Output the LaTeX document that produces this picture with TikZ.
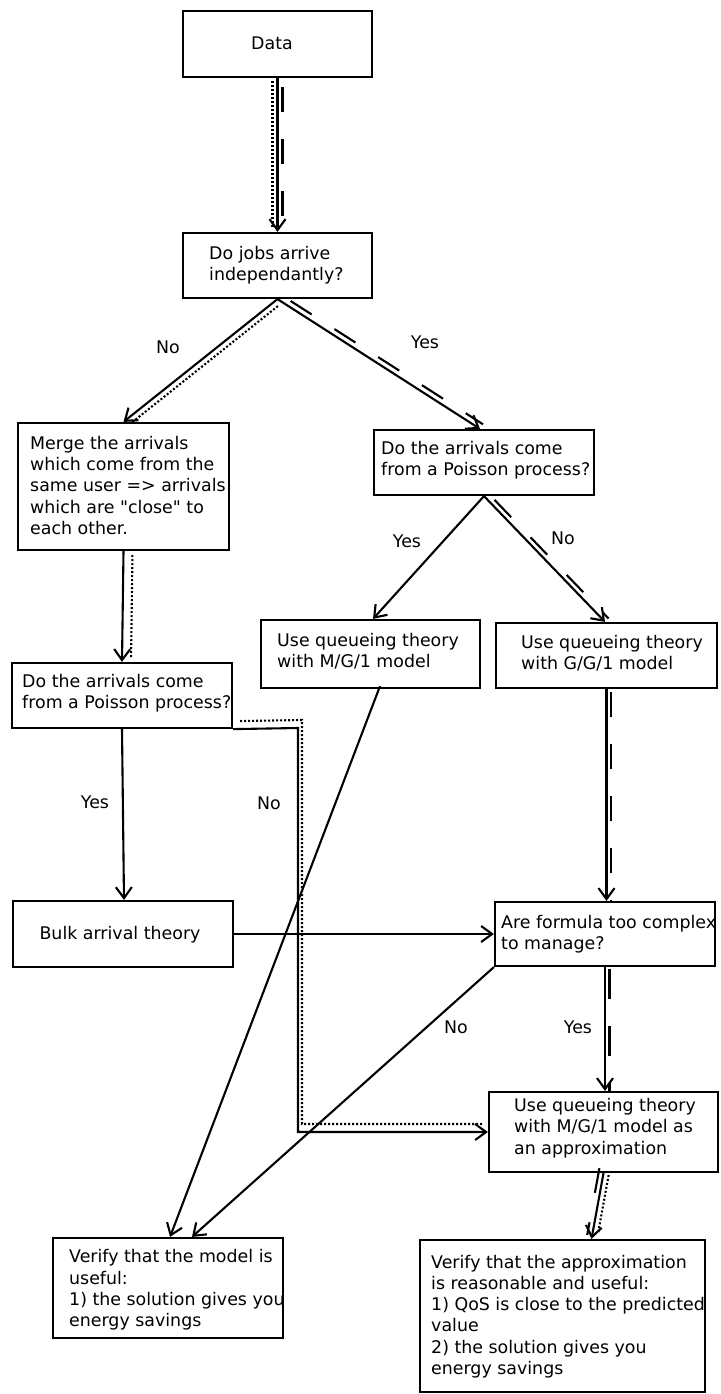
\documentclass[tikz,border=0pt]{standalone}
\usepackage{fontspec}
\setmainfont{DejaVu Sans}[Ligatures=TeXOff]
\usetikzlibrary{arrows.meta,calc}
\begin{document}
\begin{tikzpicture}[x=1pt,y=-1pt,
  box/.style={draw, line width=2.2pt, inner sep=0pt},
  txt/.style={inner sep=0pt, align=left, anchor=west, font=\fontsize{17.4}{21.3}\selectfont},
  lbl/.style={inner sep=0pt, font=\fontsize{17.4}{21.3}\selectfont},
  arr/.style={line width=2.1pt, -{Straight Barb[length=11pt,width=16pt]}},
  dotl/.style={line width=2.1pt, dash pattern=on 2pt off 2pt},
  dashl/.style={line width=2.1pt, dash pattern=on 25pt off 27pt},
]
\useasboundingbox (0,0) rectangle (720,1394);

% boxes
\node[box, minimum width=189pt, minimum height=66pt] (data) at (277.5,44) {};
\node[box, minimum width=189pt, minimum height=65pt] (jobs) at (277.5,265.5) {};
\node[box, minimum width=211pt, minimum height=127pt] (merge) at (123.5,486.5) {};
\node[box, minimum width=220pt, minimum height=65pt] (pois1) at (484,462.5) {};
\node[box, minimum width=219pt, minimum height=68pt] (mg1) at (370.5,654) {};
\node[box, minimum width=221pt, minimum height=65pt] (gg1) at (606.5,655.5) {};
\node[box, minimum width=220pt, minimum height=65pt] (pois2) at (122,695.5) {};
\node[box, minimum width=220pt, minimum height=66pt] (bulk) at (123,934) {};
\node[box, minimum width=220pt, minimum height=64pt] (form) at (605,934) {};
\node[box, minimum width=229pt, minimum height=80pt] (approx) at (603.5,1132) {};
\node[box, minimum width=230pt, minimum height=100pt] (ver1) at (168,1288) {};
\node[box, minimum width=285pt, minimum height=152pt] (ver2) at (562.5,1316) {};

% texts
\node[lbl] (tdata) at (272,43) {Data};
\node[txt] (tjobs) at (209,265.5) {Do jobs arrive\\independantly?};
\node[txt] (tmerge) at (30,485.5) {Merge the arrivals\\which come from the\\same user => arrivals\\which are "close" to\\each other.};
\node[txt] (tpois1) at (381,460.5) {Do the arrivals come\\from a Poisson process?};
\node[txt] (tmg1) at (277,651) {Use queueing theory\\with M/G/1 model};
\node[txt] (tgg1) at (521,653) {Use queueing theory\\with G/G/1 model};
\node[txt] (tpois2) at (22,693) {Do the arrivals come\\from a Poisson process?};
\node[lbl] (tbulk) at (120,935) {Bulk arrival theory};
\node[txt] (tform) at (501,934.5) {Are formula too complex\\to manage?};
\node[txt] (tapprox) at (514,1128) {Use queueing theory\\with M/G/1 model as\\an approximation};
\node[txt] (tver1) at (69,1290) {Verify that the model is\\useful:\\1) the solution gives you\\energy savings};
\node[txt] (tver2) at (431,1316.5) {Verify that the approximation\\is reasonable and useful:\\1) QoS is close to the predicted\\value\\2) the solution gives you\\energy savings};

% labels
\node[lbl] (l1) at (168,347) {No};
\node[lbl] (l2) at (425,342) {Yes};
\node[lbl] (l3) at (407,541) {Yes};
\node[lbl] (l4) at (563,538) {No};
\node[lbl] (l5) at (95,802) {Yes};
\node[lbl] (l6) at (269,803) {No};
\node[lbl] (l7) at (456,1027) {No};
\node[lbl] (l8) at (578,1027) {Yes};

% connectors
\coordinate (c1) at (298,728);
\draw[arr] (data.south) -- (jobs.north);
\draw[dotl, transform canvas={xshift=-5pt}, shorten <=3pt, shorten >=3pt] (data.south) -- (jobs.north);
\draw[dashl, transform canvas={xshift=5pt}, shorten <=9pt] (data.south) -- (jobs.north);

\draw[arr] (jobs.south) -- (merge.north);
\draw[dotl, transform canvas={xshift=3.5pt,yshift=-4.5pt}, shorten <=4pt, shorten >=6pt] (jobs.south) -- (merge.north);

\draw[arr] (jobs.south) -- ($(pois1.north)+(-4,0)$);
\draw[dashl, transform canvas={xshift=3pt,yshift=4.6pt}, shorten <=12pt] (jobs.south) -- ($(pois1.north)+(-4,0)$);

\draw[arr] (merge.south) -- (pois2.north);
\draw[dotl, transform canvas={xshift=9pt}, shorten <=4pt, shorten >=4pt] (merge.south) -- (pois2.north);

\draw[arr] (pois1.south) -- ($(mg1.north)+(2.5,0)$);
\draw[arr] (pois1.south) -- ($(gg1.north)+(-1.5,0)$);
\draw[dashl, dash pattern=on 24pt off 28pt, transform canvas={xshift=3.6pt,yshift=3.4pt}, shorten <=10pt] (pois1.south) -- ($(gg1.north)+(-1.5,0)$);

\draw[arr] (pois2.south) -- ($(bulk.north)+(1,0)$);
\draw[arr] (pois2.south east) -- (c1) |- (approx.west);
\draw[dotl, transform canvas={xshift=4pt,yshift=8pt}, shorten <=3pt, shorten >=8pt] (pois2.south east) -- (c1) |- (approx.west);

\draw[arr] ($(mg1.south)+(9.5,-3)$) -- ($(ver1.north)+(2,0)$);

\draw[arr] (gg1.south) -- (gg1.south |- form.north);
\draw[dashl, transform canvas={xshift=4.5pt}, shorten <=3pt] (gg1.south) -- (gg1.south |- form.north);

\draw[arr] (bulk.east) -- (form.west);
\draw[arr] (form.south west) -- ($(ver1.north)+(24,0)$);

\draw[arr] (form.south) -- (form.south |- approx.north);
\draw[dashl, dash pattern=on 30pt off 27pt, transform canvas={xshift=4.5pt}, shorten <=2pt] (form.south) -- (form.south |- approx.north);

\draw[arr] (approx.south) -- ($(ver2.north)+(29,0)$);
\draw[dashl, dash pattern=on 25pt off 30pt, transform canvas={xshift=-5pt}, shorten <=-5pt, shorten >=4pt] (approx.south) -- ($(ver2.north)+(29,0)$);
\draw[dotl, transform canvas={xshift=5.5pt}, shorten <=2pt, shorten >=6pt] (approx.south) -- ($(ver2.north)+(29,0)$);
\end{tikzpicture}
\end{document}
